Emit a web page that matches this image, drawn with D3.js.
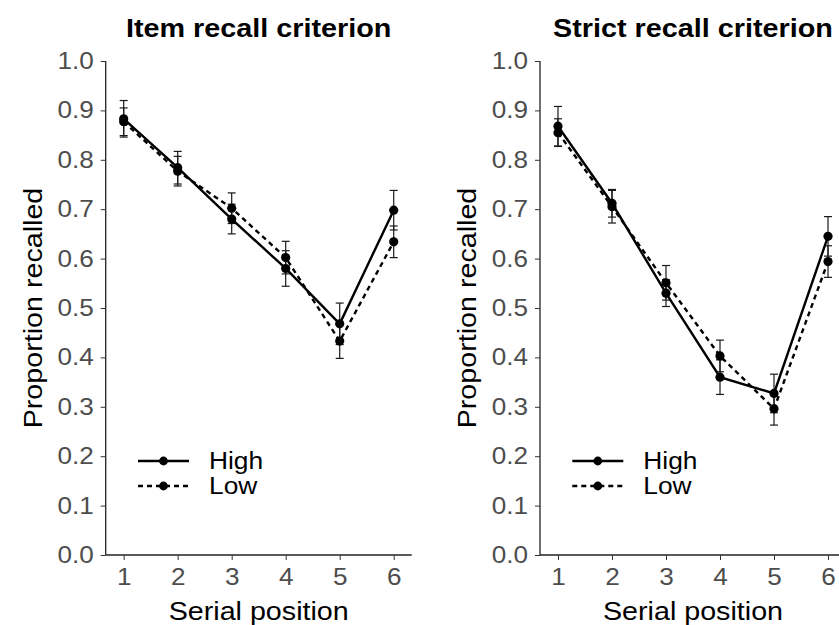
<!DOCTYPE html>
<meta charset="utf-8">
<script src="https://d3js.org/d3.v7.min.js"></script>
<style>
  * {margin: 0; padding: 0;}
  body {background: #fff;}
  svg text {font-family: "Liberation Sans", Arial, Helvetica, sans-serif;}
  .tick text {fill: #4d4d4d; font-size: 23.3px;}
  .tick line {stroke: #333;}
  .domain {stroke: #222; stroke-width: 1.3;}
</style>
<body>
<div id="chart"></div>
<script>

// serial positions and values
var positions = [1, 2, 3, 4, 5, 6];
var yTicks = [0, 0.1, 0.2, 0.3, 0.4, 0.5, 0.6, 0.7, 0.8, 0.9, 1.0];
var groups = ["High", "Low"];

var itemHigh   = [0.883, 0.784, 0.680, 0.580, 0.468, 0.698];
var itemHighSe = [0.037, 0.033, 0.030, 0.036, 0.042, 0.040];
var itemLow    = [0.877, 0.777, 0.702, 0.602, 0.433, 0.634];
var itemLowSe  = [0.028, 0.030, 0.031, 0.033, 0.035, 0.032];

var strictHigh   = [0.868, 0.712, 0.530, 0.360, 0.327, 0.645];
var strictHighSe = [0.040, 0.028, 0.027, 0.035, 0.039, 0.040];
var strictLow    = [0.855, 0.705, 0.551, 0.403, 0.296, 0.594];
var strictLowSe  = [0.028, 0.033, 0.035, 0.032, 0.033, 0.032];

var panels = [
  {title: "Item recall criterion", left: 105.7, high: itemHigh, highSe: itemHighSe, low: itemLow, lowSe: itemLowSe},
  {title: "Strict recall criterion", left: 540, high: strictHigh, highSe: strictHighSe, low: strictLow, lowSe: strictLowSe}
];

var W = 839, H = 625;
var plotTop = 61, plotBottom = 555, pw = 306;
var ph = plotBottom - plotTop;

var svg = d3.select("#chart").append("svg")
  .attr("width", W)
  .attr("height", H);

svg.append("rect").attr("width", W).attr("height", H).attr("fill", "#fff");

var x = d3.scaleLinear().domain([0.667, 6.333]).range([0, pw]);
var y = d3.scaleLinear().domain([0, 1]).range([ph, 0]);

panels.forEach(function(p) {
  var g = svg.append("g").attr("transform", "translate(" + p.left + "," + plotTop + ")");

  // title
  g.append("text")
    .attr("x", pw / 2)
    .attr("y", 37 - plotTop)
    .attr("text-anchor", "middle")
    .style("font-size", "25.7px")
    .style("font-weight", "bold")
    .text(p.title);

  // axes
  g.append("g")
    .attr("transform", "translate(0," + ph + ")")
    .call(d3.axisBottom(x).tickValues(positions).tickFormat(d3.format("d")).tickSize(5).tickPadding(8))
    .call(function(a) { a.select(".domain").attr("d", "M0,0H" + pw); });

  g.append("g")
    .call(d3.axisLeft(y).tickValues(yTicks).tickFormat(d3.format(".1f")).tickSize(5).tickPadding(7))
    .call(function(a) { a.select(".domain").attr("d", "M0," + y(1) + "V" + y(0)); });

  // axis titles
  g.append("text")
    .attr("x", pw / 2)
    .attr("y", 620 - plotTop)
    .attr("text-anchor", "middle")
    .style("font-size", "25.6px")
    .text("Serial position");

  g.append("text")
    .attr("transform", "translate(" + (42 - 105.7) + "," + (ph / 2) + ") rotate(-90)")
    .attr("text-anchor", "middle")
    .style("font-size", "25.6px")
    .text("Proportion recalled");

  var series = [
    {name: "High", vals: p.high, se: p.highSe, dash: null},
    {name: "Low", vals: p.low, se: p.lowSe, dash: "5,4"}
  ];

  // error bars
  series.forEach(function(s) {
    var eb = g.append("g").selectAll("g")
      .data(positions)
      .enter().append("g")
      .attr("stroke", "#1a1a1a")
      .attr("stroke-width", 1.2);
    eb.append("line")
      .attr("x1", function(d) { return x(d); })
      .attr("x2", function(d) { return x(d); })
      .attr("y1", function(d, i) { return y(s.vals[i] - s.se[i]); })
      .attr("y2", function(d, i) { return y(s.vals[i] + s.se[i]); });
    eb.append("line")
      .attr("x1", function(d) { return x(d) - 4; })
      .attr("x2", function(d) { return x(d) + 4; })
      .attr("y1", function(d, i) { return y(s.vals[i] + s.se[i]); })
      .attr("y2", function(d, i) { return y(s.vals[i] + s.se[i]); });
    eb.append("line")
      .attr("x1", function(d) { return x(d) - 4; })
      .attr("x2", function(d) { return x(d) + 4; })
      .attr("y1", function(d, i) { return y(s.vals[i] - s.se[i]); })
      .attr("y2", function(d, i) { return y(s.vals[i] - s.se[i]); });
  });

  // lines and points
  series.forEach(function(s) {
    g.append("path")
      .datum(positions)
      .attr("d", d3.line()
        .x(function(d) { return x(d); })
        .y(function(d, i) { return y(s.vals[i]); }))
      .attr("fill", "none")
      .attr("stroke", "#000")
      .attr("stroke-width", 2.4)
      .attr("stroke-dasharray", s.dash);

    g.selectAll(null)
      .data(positions)
      .enter().append("circle")
      .attr("cx", function(d) { return x(d); })
      .attr("cy", function(d, i) { return y(s.vals[i]); })
      .attr("r", 4.6)
      .attr("fill", "#000");
  });

  // legend
  var lg = g.append("g").attr("transform", "translate(" + (138 - 105.7) + "," + (461 - plotTop) + ")");
  series.forEach(function(s, i) {
    var row = lg.append("g").attr("transform", "translate(0," + (i * 25) + ")");
    row.append("line")
      .attr("x1", 0).attr("x2", 51)
      .attr("stroke", "#000")
      .attr("stroke-width", 2.4)
      .attr("stroke-dasharray", s.dash);
    row.append("circle").attr("cx", 25.5).attr("r", 4.4).attr("fill", "#000");
    row.append("text")
      .attr("x", 71)
      .attr("dy", "0.36em")
      .style("font-size", "23.5px")
      .text(s.name);
  });
});

// the original lettering runs a bit wider than Liberation Sans
svg.selectAll("text").each(function() {
  var len = this.getComputedTextLength();
  d3.select(this)
    .attr("textLength", len * 1.12)
    .attr("lengthAdjust", "spacingAndGlyphs");
});

</script>
</body>
